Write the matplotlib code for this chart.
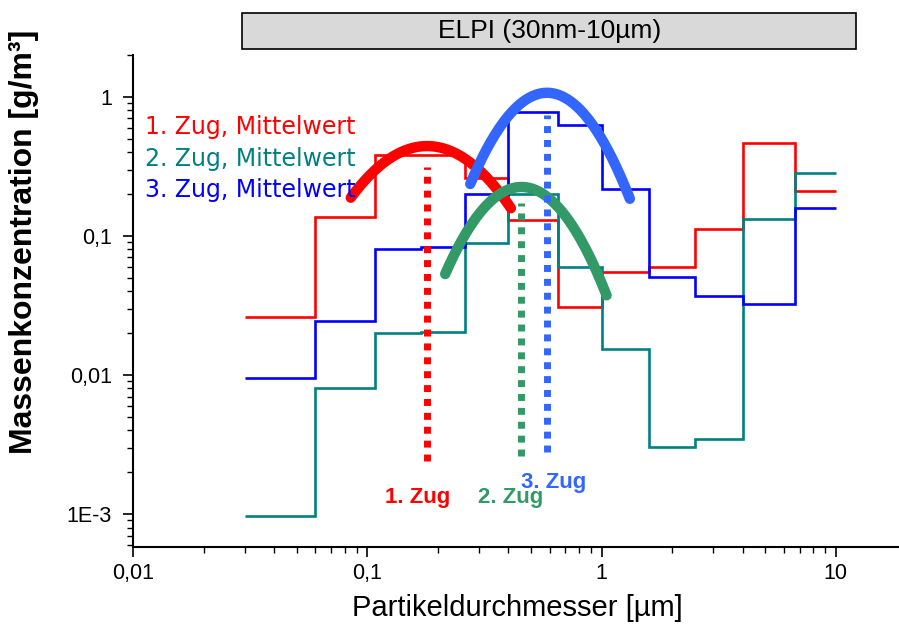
import numpy as np
import matplotlib.pyplot as plt
from matplotlib.patches import Rectangle
from matplotlib.ticker import LogLocator, NullFormatter

# ELPI impactor stage boundaries [µm]
edges = [0.03, 0.06, 0.108, 0.17, 0.26, 0.40, 0.65, 1.0, 1.6, 2.5, 4.0, 6.7, 10.0]

# mean mass concentration per stage [g/m³]
zug1 = [0.0261, 0.1365, 0.381, 0.381, 0.260, 0.130, 0.0308, 0.0549, 0.0597, 0.112, 0.463, 0.210]
zug2 = [0.00097, 0.00805, 0.0201, 0.0205, 0.0888, 0.200, 0.0597, 0.0154, 0.00303, 0.00347, 0.132, 0.283]
zug3 = [0.0095, 0.0244, 0.0805, 0.0827, 0.200, 0.776, 0.626, 0.217, 0.0506, 0.0370, 0.0324, 0.158]

series_labels = ["1. Zug, Mittelwert", "2. Zug, Mittelwert", "3. Zug, Mittelwert"]
mode_labels = ["1. Zug", "2. Zug", "3. Zug"]

# log-normal fits per run: mode diameter, peak value, geometric std, fitted range
fit_mode = [0.18, 0.455, 0.585]
fit_peak = [0.443, 0.225, 1.07]
fit_sigma = [1.775, 1.555, 1.544]
fit_range = [(0.085, 0.41), (0.215, 1.05), (0.275, 1.32)]

# dotted mode markers (vertical extent)
mode_top = [0.312, 0.172, 0.738]
mode_bottom = [0.0024, 0.0026, 0.0028]
# label anchor for each mode marker
mode_label_x = [0.164, 0.408, 0.623]
mode_label_y = [0.00132, 0.00131, 0.0017]

x_ticks = [0.01, 0.1, 1, 10]
x_ticklabels = ["0,01", "0,1", "1", "10"]
y_ticks = [1e-3, 1e-2, 1e-1, 1]
y_ticklabels = ["1E-3", "0,01", "0,1", "1"]

step_colors = ["#ff0000", "#008080", "#0000ff"]
fit_colors = ["#ff0000", "#339966", "#3366ff"]

plt.rcParams["font.family"] = ["Liberation Sans", "DejaVu Sans"]

fig = plt.figure(figsize=(8.99, 6.28), dpi=100)
ax = fig.add_axes([0.148, 0.129, 0.852, 0.7834])
ax.set_xscale("log")
ax.set_yscale("log")
ax.set_xlim(0.01, 18.6)
ax.set_ylim(5.8e-4, 2.0)

for vals, col in zip([zug1, zug2, zug3], step_colors):
    ax.stairs(vals, edges, baseline=None, color=col, lw=1.9, zorder=2)

# fits: red, blue, green so green ends up on top
for i in [0, 2, 1]:
    lo, hi = fit_range[i]
    d = np.logspace(np.log10(lo), np.log10(hi), 200)
    c = fit_peak[i] * np.exp(-np.log(d / fit_mode[i]) ** 2 / (2 * np.log(fit_sigma[i]) ** 2))
    ax.plot(d, c, color=fit_colors[i], lw=7.5, solid_capstyle="round", zorder=3)

for i in range(3):
    ax.plot([fit_mode[i], fit_mode[i]], [mode_bottom[i], mode_top[i]],
            color=fit_colors[i], lw=5, linestyle=(0, (1, 1)),
            dash_capstyle="butt", zorder=4)
    ax.text(mode_label_x[i], mode_label_y[i], mode_labels[i], color=fit_colors[i],
            fontsize=16, fontweight="bold", ha="center", va="center", zorder=5)

for lab, col, yy in zip(series_labels, step_colors, [0.854, 0.789, 0.726]):
    ax.text(0.0157, yy, lab, transform=ax.transAxes, color=col,
            fontsize=17, family="DejaVu Sans", ha="left", va="center")

ax.set_xticks(x_ticks, x_ticklabels)
ax.set_yticks(y_ticks, y_ticklabels)
ax.xaxis.set_minor_locator(LogLocator(base=10, subs=np.arange(2, 10)))
ax.yaxis.set_minor_locator(LogLocator(base=10, subs=np.arange(2, 10)))
ax.xaxis.set_minor_formatter(NullFormatter())
ax.yaxis.set_minor_formatter(NullFormatter())
ax.tick_params(which="major", length=7.2, width=1.2, labelsize=15.5)
ax.tick_params(axis="x", which="major", pad=4)
ax.tick_params(axis="y", which="major", pad=8)
ax.tick_params(which="minor", length=4.3, width=1.0)

for side in ["top", "right"]:
    ax.spines[side].set_visible(False)
for side in ["left", "bottom"]:
    ax.spines[side].set_linewidth(1.5)

fig.text(0.575, 0.032, "Partikeldurchmesser [µm]", fontsize=21, ha="center", va="center")
fig.text(0.027, 0.615, "Massenkonzentration [g/m³]", fontsize=23, fontweight="bold",
         rotation=90, ha="center", va="center")

# header box
fig.patches.append(Rectangle((0.269, 0.922), 0.683, 0.057, transform=fig.transFigure,
                             facecolor="#d9d9d9", edgecolor="black", lw=1.2))
fig.text(0.611, 0.9506, "ELPI (30nm-10µm)", fontsize=19, ha="center", va="center")

fig.savefig("out.png", dpi=100)
